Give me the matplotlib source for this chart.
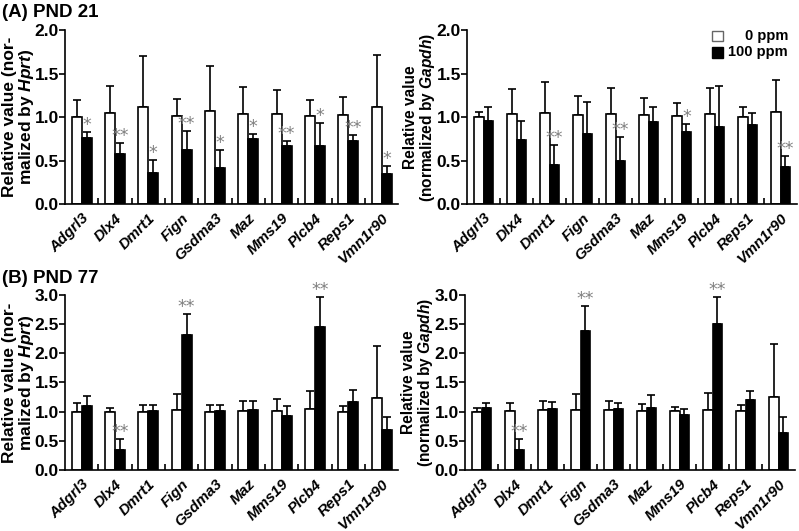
import numpy as np
import matplotlib
matplotlib.use('Agg')
import matplotlib.pyplot as plt
from matplotlib.patches import Rectangle

plt.rcParams['font.family'] = ['Liberation Sans', 'DejaVu Sans']
plt.rcParams['font.weight'] = 'bold'
plt.rcParams['mathtext.fontset'] = 'custom'
plt.rcParams['mathtext.rm'] = 'Liberation Sans:bold'
plt.rcParams['mathtext.it'] = 'Liberation Sans:bold:italic'

genes = ['Adgrl3', 'Dlx4', 'Dmrt1', 'Fign', 'Gsdma3', 'Maz', 'Mms19', 'Plcb4', 'Reps1', 'Vmn1r90']

# PND 21, Hprt
a_hprt_0 = [1.00, 1.05, 1.11, 1.01, 1.07, 1.04, 1.03, 1.01, 1.02, 1.11]
a_hprt_0_err = [0.19, 0.31, 0.59, 0.20, 0.52, 0.31, 0.28, 0.19, 0.21, 0.60]
a_hprt_100 = [0.76, 0.58, 0.36, 0.62, 0.41, 0.75, 0.67, 0.67, 0.72, 0.34]
a_hprt_100_err = [0.07, 0.12, 0.15, 0.22, 0.21, 0.05, 0.05, 0.26, 0.07, 0.10]
a_hprt_sig = ['*', '**', '*', '**', '*', '*', '**', '*', '**', '*']

# PND 21, Gapdh
a_gapdh_0 = [1.00, 1.04, 1.05, 1.02, 1.04, 1.02, 1.01, 1.04, 1.00, 1.06]
a_gapdh_0_err = [0.06, 0.28, 0.35, 0.22, 0.29, 0.20, 0.15, 0.29, 0.11, 0.37]
a_gapdh_100 = [0.95, 0.73, 0.45, 0.80, 0.50, 0.94, 0.83, 0.88, 0.91, 0.42]
a_gapdh_100_err = [0.17, 0.22, 0.23, 0.37, 0.27, 0.18, 0.09, 0.48, 0.14, 0.13]
a_gapdh_sig = ['', '', '**', '', '**', '', '*', '', '', '**']

# PND 77, Hprt
b_hprt_0 = [1.00, 1.00, 1.00, 1.03, 1.00, 1.01, 1.01, 1.04, 1.00, 1.24]
b_hprt_0_err = [0.14, 0.07, 0.12, 0.27, 0.12, 0.18, 0.20, 0.31, 0.09, 0.88]
b_hprt_100 = [1.10, 0.34, 1.01, 2.31, 1.01, 1.02, 0.93, 2.45, 1.17, 0.69]
b_hprt_100_err = [0.16, 0.19, 0.11, 0.37, 0.10, 0.17, 0.17, 0.52, 0.20, 0.21]
b_hprt_sig = ['', '**', '', '**', '', '', '', '**', '', '']

# PND 77, Gapdh
b_gapdh_0 = [1.00, 1.01, 1.02, 1.03, 1.02, 1.01, 1.01, 1.03, 1.01, 1.25]
b_gapdh_0_err = [0.07, 0.14, 0.17, 0.27, 0.17, 0.12, 0.07, 0.29, 0.10, 0.91]
b_gapdh_100 = [1.06, 0.35, 1.05, 2.39, 1.04, 1.07, 0.95, 2.51, 1.20, 0.63]
b_gapdh_100_err = [0.08, 0.18, 0.11, 0.42, 0.11, 0.22, 0.10, 0.45, 0.15, 0.27]
b_gapdh_sig = ['', '**', '', '**', '', '', '', '**', '', '']

legend_labels = ['0 ppm', '100 ppm']


def draw_panel(ax, v0, e0, v1, e1, sig, ymax, ylabel, lab_size, lab_x):
    x = np.arange(len(genes)) + 0.5
    w = 0.3
    ax.bar(x - w / 2, v0, w, color='white', edgecolor='black', linewidth=1.2, zorder=2)
    ax.bar(x + w / 2, v1, w, color='black', edgecolor='black', linewidth=1.2, zorder=2)
    ax.errorbar(x - w / 2, v0, yerr=[np.zeros(len(v0)), e0], fmt='none',
                ecolor='black', elinewidth=1.2, capsize=3, capthick=1.2, zorder=1)
    ax.errorbar(x + w / 2, v1, yerr=[np.zeros(len(v1)), e1], fmt='none',
                ecolor='black', elinewidth=1.2, capsize=3, capthick=1.2, zorder=1)
    for xi, v, e, s in zip(x, v1, e1, sig):
        if s:
            ax.annotate(s, (xi + w / 2, v + e), xytext=(0, -1.5),
                        textcoords='offset points', ha='center', va='bottom',
                        color='#808080', fontsize=12.5, fontweight='normal', family='DejaVu Sans')
    ticks = np.arange(0, ymax + 0.01, 0.5)
    ax.set_xlim(0, len(genes))
    ax.set_ylim(0, ymax)
    ax.set_yticks(ticks)
    ax.set_yticklabels(['%.1f' % t for t in ticks], fontsize=12.5)
    ax.set_xticks(x)
    ax.set_xticklabels(genes, rotation=45, ha='right', rotation_mode='anchor',
                       fontsize=11, fontstyle='italic')
    ax.tick_params(axis='x', which='major', length=0, pad=5)
    ax.set_xticks(np.arange(1, len(genes)), minor=True)
    ax.tick_params(axis='x', which='minor', direction='in', length=4, width=1.2)
    ax.tick_params(axis='y', direction='out', length=4, width=1.2, pad=0.5)
    ax.spines['top'].set_visible(False)
    ax.spines['right'].set_visible(False)
    ax.spines['left'].set_linewidth(1.2)
    ax.spines['bottom'].set_linewidth(1.2)
    ax.set_ylabel(ylabel, fontsize=lab_size, fontweight='bold', linespacing=1.0)
    ax.yaxis.set_label_coords(lab_x, 0.5)


fig = plt.figure(figsize=(7.99, 5.31), dpi=100)
ax1 = fig.add_axes([0.0814, 0.6158, 0.417, 0.3277])
ax2 = fig.add_axes([0.5845, 0.6158, 0.413, 0.3277])
ax3 = fig.add_axes([0.0814, 0.1149, 0.417, 0.3296])
ax4 = fig.add_axes([0.582, 0.1149, 0.413, 0.3296])

lab_h = 'Relative value (nor-\nmalized by $Hprt$)'
lab_g = 'Relative value\n(normalized by $Gapdh$)'

draw_panel(ax1, a_hprt_0, a_hprt_0_err, a_hprt_100, a_hprt_100_err, a_hprt_sig, 2.0, lab_h, 12.5, -0.088)
draw_panel(ax2, a_gapdh_0, a_gapdh_0_err, a_gapdh_100, a_gapdh_100_err, a_gapdh_sig, 2.0, lab_g, 11.2, -0.09)
draw_panel(ax3, b_hprt_0, b_hprt_0_err, b_hprt_100, b_hprt_100_err, b_hprt_sig, 3.0, lab_h, 12.5, -0.088)
draw_panel(ax4, b_gapdh_0, b_gapdh_0_err, b_gapdh_100, b_gapdh_100_err, b_gapdh_sig, 3.0, lab_g, 11.2, -0.09)

fig.text(0.003, 0.977, '(A) PND 21', fontsize=13.5, fontweight='bold', va='center')
fig.text(0.003, 0.4746, '(B) PND 77', fontsize=13.5, fontweight='bold', va='center')

# legend, drawn by hand so the labels can be right-aligned
ax2.add_patch(Rectangle((0.742, 0.934), 0.035, 0.063, transform=ax2.transAxes,
                        facecolor='white', edgecolor='#666666', linewidth=1, clip_on=False))
ax2.add_patch(Rectangle((0.742, 0.839), 0.035, 0.063, transform=ax2.transAxes,
                        facecolor='black', edgecolor='black', linewidth=1, clip_on=False))
ax2.text(0.973, 0.966, legend_labels[0], transform=ax2.transAxes, ha='right', va='center',
         fontsize=10.5, fontweight='bold')
ax2.text(0.973, 0.871, legend_labels[1], transform=ax2.transAxes, ha='right', va='center',
         fontsize=10.5, fontweight='bold')

fig.savefig('out.png', dpi=100)
